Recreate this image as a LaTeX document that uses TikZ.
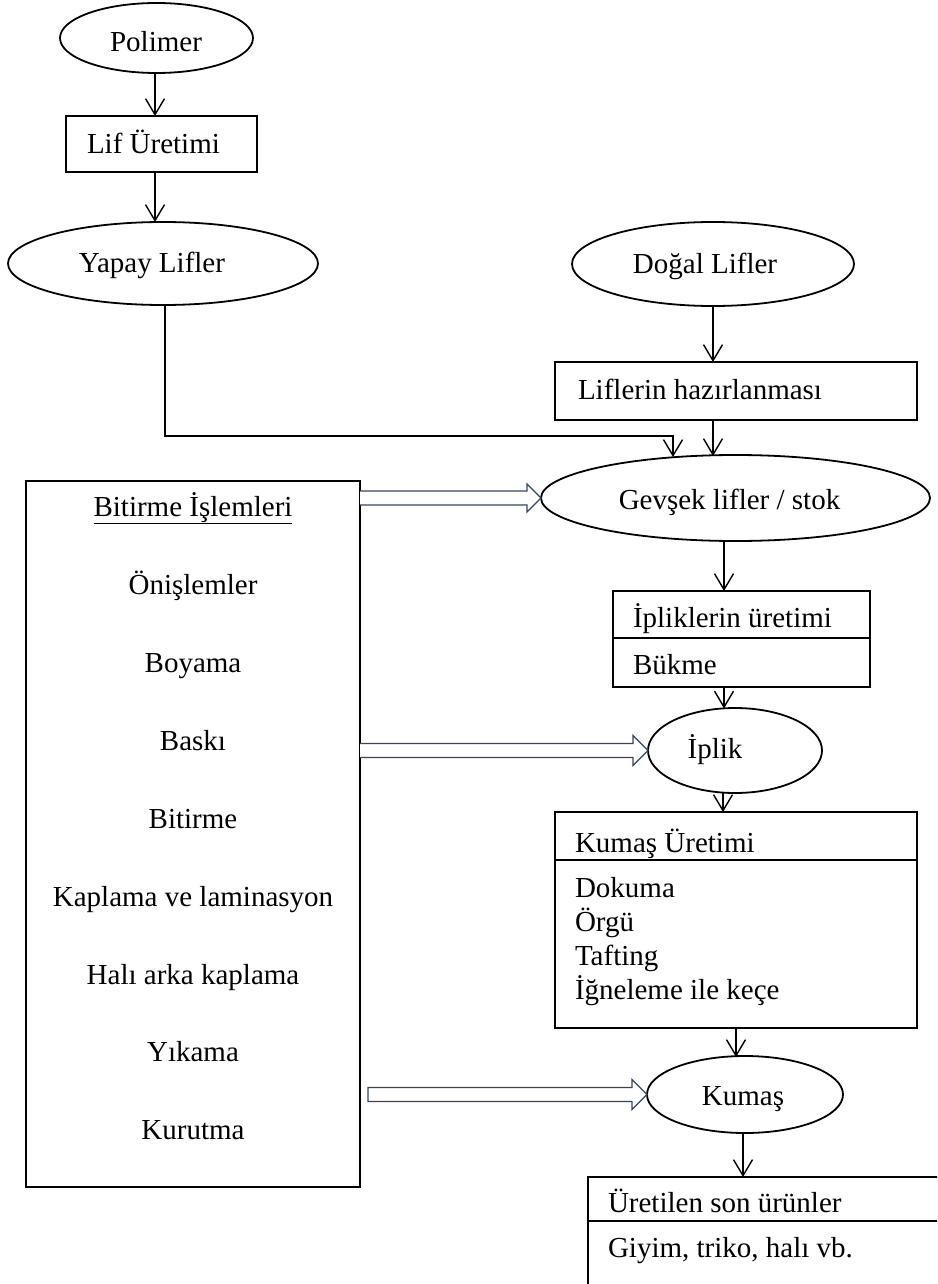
\documentclass[tikz,border=0pt]{standalone}
\usepackage{fontspec}
\setmainfont{Liberation Serif}
\usetikzlibrary{shapes.geometric,arrows.meta,calc}
\definecolor{barrowcol}{RGB}{50,70,105}
\begin{document}
\begin{tikzpicture}[x=1pt,y=-1pt,
  every node/.style={font=\fontsize{29}{34}\selectfont,inner sep=0pt,outer sep=0pt},
  ell/.style={draw,ellipse,line width=1.8pt},
  box/.style={draw,rectangle,line width=1.3pt,anchor=north west},
  txt/.style={anchor=base},
  ltxt/.style={anchor=base west},
  arr/.style={line width=1.4pt,-{Straight Barb[length=16pt,width=19pt,line width=1.4pt]}},
  barrow/.style={draw=barrowcol,fill=white,line width=1.1pt,line join=miter},
]
\useasboundingbox (0,0) rectangle (937,1284);
\clip (0,0) rectangle (937,1284);

% ellipses
\node[ell,minimum width=193pt,minimum height=70pt] (polimer) at (156.5,38) {};
\node[ell,minimum width=310pt,minimum height=83pt] (yapay) at (163,263.5) {};
\node[ell,minimum width=282pt,minimum height=84pt] (dogal) at (713,264) {};
\node[ell,minimum width=389pt,minimum height=86pt] (gevsek) at (735.5,498) {};
\node[ell,minimum width=174pt,minimum height=85pt] (iplik) at (735,750.5) {};
\node[ell,minimum width=196pt,minimum height=77pt] (kumas) at (745,1094.5) {};

% boxes
\node[box,minimum width=191pt,minimum height=56pt] (lif) at (66,116) {};
\node[box,minimum width=362pt,minimum height=58pt] (liflerin) at (555,362) {};
\node[box,minimum width=334pt,minimum height=706pt] (bitirme) at (26,481) {};
\node[box,minimum width=257pt,minimum height=96pt] (ipl) at (613,591) {};
\node[box,minimum width=362pt,minimum height=216pt] (kbox) at (555,812) {};
\node[box,minimum width=420pt,minimum height=200pt] (uretilen) at (588,1177) {};

% dividers
\draw[line width=1.3pt] ([yshift=-47pt]ipl.north west) -- ([yshift=-47pt]ipl.north east);
\draw[line width=1.3pt] ([yshift=-48pt]kbox.north west) -- ([yshift=-48pt]kbox.north east);
\draw[line width=1.3pt] ([yshift=-44pt]uretilen.north west) -- ([yshift=-44pt]uretilen.north east);

% texts
\node[txt] (tpolimer) at (156,52) {Polimer};
\node[ltxt] (tlif) at (87,154) {Lif Üretimi};
\node[txt] (tyapay) at (152,272) {Yapay Lifler};
\node[txt] (tdogal) at (705,273) {Doğal Lifler};
\node[ltxt] (tliflerin) at (578,399) {Liflerin hazırlanması};
\node[txt] (tgevsek) at (729.5,509) {Gevşek lifler / stok};
\node[ltxt] (tipl1) at (633,627) {İpliklerin üretimi};
\node[ltxt] (tipl2) at (633,674) {Bükme};
\node[txt] (tiplik) at (715,758) {İplik};
\node[ltxt] (tk1) at (575,852) {Kumaş Üretimi};
\node[ltxt] (tk2) at (575,897) {Dokuma};
\node[ltxt] (tk3) at (575,931) {Örgü};
\node[ltxt] (tk4) at (575,965) {Tafting};
\node[ltxt] (tk5) at (575,999) {İğneleme ile keçe};
\node[txt] (tkumas) at (743,1105) {Kumaş};
\node[ltxt] (tu1) at (608,1212) {Üretilen son ürünler};
\node[ltxt] (tu2) at (608,1257) {Giyim, triko, halı vb.};

\node[txt] (b0) at (193,516) {\underline{Bitirme İşlemleri}};
\node[txt] (b1) at (193,594) {Önişlemler};
\node[txt] (b2) at (193,672) {Boyama};
\node[txt] (b3) at (193,750) {Baskı};
\node[txt] (b4) at (193,828) {Bitirme};
\node[txt] (b5) at (193,906) {Kaplama ve laminasyon};
\node[txt] (b6) at (193,984) {Halı arka kaplama};
\node[txt] (b7) at (193,1061) {Yıkama};
\node[txt] (b8) at (193,1139) {Kurutma};

% connectors
\coordinate (cxa) at (155,0);
\coordinate (cxb) at (724,0);
\coordinate (cxc) at (723,0);
\coordinate (cxd) at (736,0);
\coordinate (cxe) at (743,0);
\coordinate (j) at (673,436);
\draw[arr] (cxa |- polimer.south) -- (cxa |- lif.north);
\draw[arr] (cxa |- lif.south) -- (cxa |- yapay.north);
\draw[arr] (dogal.south) -- (dogal.south |- liflerin.north);
\draw[arr] (dogal.south |- liflerin.south) -- ([yshift=-1pt]dogal.south |- gevsek.north);
\draw[arr] ([xshift=2pt]yapay.south) |- (j) -- ([yshift=-2pt]j |- gevsek.north);
\draw[arr] (cxb |- gevsek.south) -- (cxb |- ipl.north);
\draw[arr] (cxb |- ipl.south) -- ([yshift=-0.5pt]cxb |- iplik.north);
\draw[arr] (cxc |- iplik.south) -- (cxc |- kbox.north);
\draw[arr] (cxd |- kbox.south) -- ([yshift=-1pt]cxd |- kumas.north);
\draw[arr] (cxe |- kumas.south) -- (cxe |- uretilen.north);

% block arrows
\draw[barrow] let \p1=(bitirme.east |- gevsek.west), \p2=(gevsek.west) in
  (\x1,\y2+7pt) -- (\x2-14pt,\y2+7pt) -- (\x2-14pt,\y2+14pt) -- (\x2,\y2)
  -- (\x2-14pt,\y2-14pt) -- (\x2-14pt,\y2-7pt) -- (\x1,\y2-7pt);
\draw[barrow] let \p1=(bitirme.east |- iplik.west), \p2=(iplik.west) in
  (\x1,\y2+7pt) -- (\x2-15pt,\y2+7pt) -- (\x2-15pt,\y2+15pt) -- (\x2,\y2)
  -- (\x2-15pt,\y2-15pt) -- (\x2-15pt,\y2-7pt) -- (\x1,\y2-7pt);
\draw[barrow] let \p1=([xshift=8pt]bitirme.east |- kumas.west), \p2=(kumas.west) in
  (\x1,\y2+7pt) -- (\x2-15pt,\y2+7pt) -- (\x2-15pt,\y2+15pt) -- (\x2,\y2)
  -- (\x2-15pt,\y2-15pt) -- (\x2-15pt,\y2-7pt) -- (\x1,\y2-7pt) -- cycle;
\end{tikzpicture}
\end{document}
